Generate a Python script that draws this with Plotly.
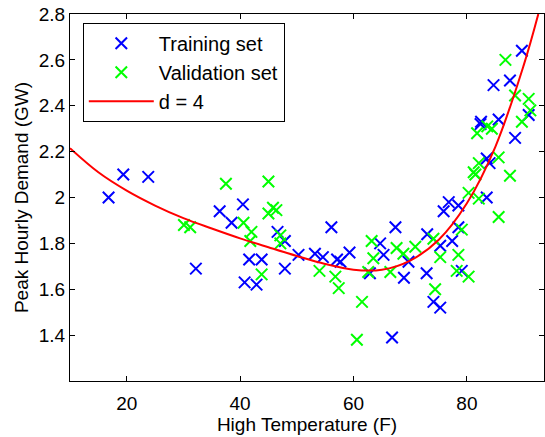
import plotly.graph_objects as go

# Training set (blue crosses)
train_temp = [16.8, 19.4, 23.8, 32.2, 36.4, 38.5, 40.5, 41.6, 43.8, 40.8,
              42.9, 46.6, 47.9, 47.9, 50.3, 53.2, 54.6, 56.1, 57.1, 57.7,
              59.3, 62.9, 64.7, 65.3, 66.8, 67.4, 68.9, 69.7, 72.9, 73.0,
              74.1, 75.3, 75.3, 77.4, 75.9, 76.8, 78.5, 78.5, 79.1, 83.5,
              83.5, 84.0, 82.4, 82.5, 85.6, 88.5, 90.9, 84.7, 87.6, 89.7]
train_demand = [2.00, 2.10, 2.09, 1.69, 1.94, 1.89, 1.97, 1.73, 1.73, 1.63,
                1.62, 1.85, 1.81, 1.69, 1.75, 1.755, 1.74, 1.87, 1.73, 1.72,
                1.76, 1.67, 1.80, 1.75, 1.39, 1.87, 1.65, 1.72, 1.67, 1.84,
                1.545, 1.52, 1.79, 1.81, 1.94, 1.98, 1.965, 1.87, 1.68, 2.00,
                2.17, 2.15, 2.32, 2.33, 2.34, 2.26, 2.36, 2.49, 2.51, 2.64]

# Validation set (green crosses)
val_temp = [30.1, 31.2, 37.5, 45.0, 40.6, 42.0, 41.8, 43.8, 45.8, 45.0,
            46.4, 47.1, 47.1, 54.0, 56.8, 57.4, 61.5, 60.6, 63.2, 63.5,
            62.6, 66.5, 67.6, 68.8, 70.9, 74.4, 74.1, 75.3, 78.5, 78.2,
            80.3, 79.1, 80.3, 82.1, 85.6, 81.5, 87.6, 81.2, 82.1, 85.6,
            81.8, 84.4, 83.6, 89.7, 88.5, 90.9, 91.2, 86.8]
val_demand = [1.88, 1.87, 2.06, 2.07, 1.89, 1.85, 1.81, 1.665, 1.955, 1.93,
              1.945, 1.835, 1.80, 1.68, 1.655, 1.605, 1.545, 1.38, 1.81, 1.735,
              1.675, 1.675, 1.78, 1.755, 1.785, 1.60, 1.82, 1.74, 1.75, 1.68,
              1.655, 1.86, 2.02, 1.995, 1.915, 2.10, 2.095, 2.11, 2.15, 2.175,
              2.28, 2.30, 2.31, 2.33, 2.445, 2.43, 2.38, 2.60]

# degree-4 fit, values
fit_temp = [10, 15, 20, 25, 30, 35, 40, 45, 50, 55, 60, 65, 70, 75, 80, 85, 90, 92.6]
fit_demand = [2.215, 2.11, 2.03, 1.965, 1.91, 1.865, 1.822, 1.783, 1.745, 1.71,
              1.685, 1.685, 1.725, 1.815, 1.975, 2.22, 2.575, 2.8]

y_ticks = [1.4, 1.6, 1.8, 2.0, 2.2, 2.4, 2.6, 2.8]
y_labels = ["1.4", "1.6", "1.8", "2", "2.2", "2.4", "2.6", "2.8"]
x_ticks = [20, 40, 60, 80]

font = "Liberation Sans, Arial, Helvetica, sans-serif"

fig = go.Figure()
fig.add_trace(go.Scatter(x=train_temp, y=train_demand, mode="markers",
                         name="Training set",
                         marker=dict(symbol="x-thin", size=11.5,
                                     line=dict(color="#0000ff", width=2))))
fig.add_trace(go.Scatter(x=val_temp, y=val_demand, mode="markers",
                         name="Validation set",
                         marker=dict(symbol="x-thin", size=11.5,
                                     line=dict(color="#00ff00", width=2))))
fig.add_trace(go.Scatter(x=fit_temp, y=fit_demand, mode="lines", name="d = 4",
                         line=dict(color="#ff0000", width=2, shape="spline")))

axis_style = dict(showline=True, linecolor="black", linewidth=1, mirror="ticks",
                  ticks="inside", ticklen=5, tickcolor="black", showgrid=False,
                  zeroline=False, automargin=False,
                  tickfont=dict(size=19, color="black"))

fig.update_xaxes(range=[10, 93.6], tickvals=x_ticks, ticklabelstandoff=5,
                 title=dict(text="High Temperature (F)", font=dict(size=19, color="black"),
                            standoff=3),
                 **axis_style)
fig.update_yaxes(range=[1.2, 2.8], tickvals=y_ticks, ticktext=y_labels,
                 title=dict(text="Peak Hourly Demand (GW)", font=dict(size=19, color="black"),
                            standoff=5),
                 **axis_style)

fig.update_layout(
    width=545, height=437,
    margin=dict(l=70, r=1, t=14, b=56),
    paper_bgcolor="white", plot_bgcolor="white",
    font=dict(family=font, size=19, color="black"),
    legend=dict(x=0.027, y=0.976, xanchor="left", yanchor="top",
                bordercolor="black", borderwidth=1, bgcolor="white",
                itemwidth=65, font=dict(size=20)),
)

# drop the browser's default 8px body margin so the figure sits at the corner
fig.write_html("out.html", config={"displayModeBar": False},
               post_script="document.body.style.margin='0';")
